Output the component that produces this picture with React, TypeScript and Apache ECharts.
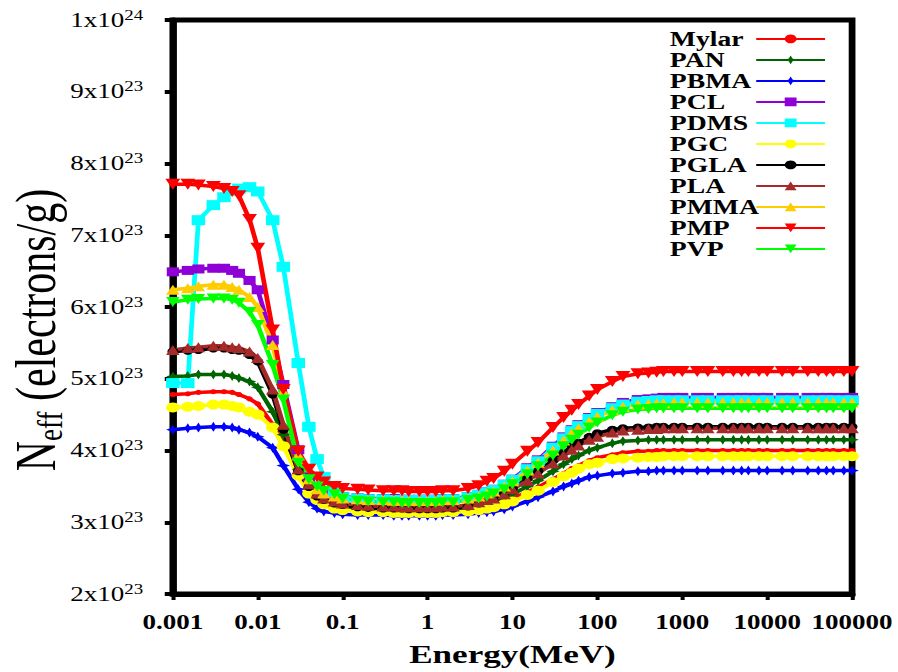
import { useEffect, useRef } from "react";
import * as echarts from "echarts";

// Photon energies (MeV) at which N_eff was evaluated
const energies = [
  0.001, 0.0015, 0.002, 0.003, 0.004, 0.005, 0.006, 0.008,
  0.01, 0.015, 0.02, 0.03, 0.04, 0.05, 0.06, 0.08,
  0.1, 0.15, 0.2, 0.3, 0.4, 0.5, 0.6, 0.8,
  1, 1.25, 1.5, 2, 3, 4, 5, 6, 8,
  10, 15, 20, 30, 40, 50, 60, 80,
  100, 150, 200, 300, 400, 500, 600, 800,
  1000, 1500, 2000, 3000, 4000, 5000, 6000, 8000,
  10000, 15000, 20000, 30000, 40000, 50000, 60000, 80000,
  100000,
];

// Effective electron density, in units of 10^23 electrons/g
const mylar = [
  4.78, 4.79, 4.81, 4.82, 4.82, 4.81, 4.78, 4.72,
  4.65, 4.36, 4.08, 3.67, 3.46, 3.35, 3.29, 3.25,
  3.22, 3.2, 3.19, 3.18, 3.18, 3.17, 3.17, 3.17,
  3.17, 3.17, 3.18, 3.18, 3.19, 3.21, 3.24, 3.25, 3.29,
  3.33, 3.42, 3.49, 3.6, 3.68, 3.75, 3.79, 3.86,
  3.9, 3.94, 3.97, 3.99, 3.99, 4.0, 4.0, 4.0,
  4.0, 4.0, 4.0, 4.0, 4.0, 4.0, 4.0, 4.0,
  4.0, 4.0, 4.0, 4.0, 4.0, 4.0, 4.0, 4.0,
  4.0,
];
const pan = [
  5.03, 5.04, 5.06, 5.06, 5.06, 5.04, 5.01, 4.96,
  4.88, 4.54, 4.22, 3.74, 3.47, 3.35, 3.29, 3.25,
  3.22, 3.2, 3.19, 3.19, 3.18, 3.18, 3.18, 3.18,
  3.18, 3.18, 3.19, 3.19, 3.21, 3.24, 3.26, 3.29, 3.33,
  3.39, 3.5, 3.58, 3.71, 3.81, 3.88, 3.93, 4.0,
  4.04, 4.1, 4.13, 4.14, 4.15, 4.15, 4.15, 4.15,
  4.15, 4.15, 4.15, 4.15, 4.15, 4.15, 4.15, 4.15,
  4.15, 4.15, 4.15, 4.15, 4.15, 4.15, 4.15, 4.15,
  4.15,
];
const pbma = [
  4.29, 4.31, 4.32, 4.33, 4.33, 4.32, 4.29, 4.25,
  4.19, 4.04, 3.79, 3.46, 3.28, 3.19, 3.15, 3.13,
  3.11, 3.1, 3.1, 3.1, 3.09, 3.09, 3.09, 3.09,
  3.09, 3.09, 3.1, 3.1, 3.11, 3.13, 3.14, 3.15, 3.18,
  3.22, 3.29, 3.35, 3.43, 3.5, 3.54, 3.58, 3.63,
  3.65, 3.68, 3.69, 3.71, 3.71, 3.72, 3.72, 3.72,
  3.72, 3.72, 3.72, 3.72, 3.72, 3.72, 3.72, 3.72,
  3.72, 3.72, 3.72, 3.72, 3.72, 3.72, 3.72, 3.72,
  3.72,
];
const pcl = [
  6.49, 6.51, 6.53, 6.54, 6.54, 6.51, 6.47, 6.37,
  6.24, 5.54, 4.92, 4.01, 3.63, 3.49, 3.43, 3.39,
  3.36, 3.34, 3.33, 3.33, 3.33, 3.32, 3.32, 3.32,
  3.32, 3.32, 3.33, 3.33, 3.36, 3.39, 3.43, 3.46, 3.53,
  3.6, 3.76, 3.87, 4.06, 4.19, 4.29, 4.36, 4.46,
  4.53, 4.61, 4.67, 4.71, 4.72, 4.73, 4.74, 4.74,
  4.74, 4.74, 4.74, 4.74, 4.74, 4.74, 4.74, 4.74,
  4.74, 4.74, 4.74, 4.74, 4.74, 4.74, 4.74, 4.74,
  4.74,
];
const pdms = [
  4.94, 4.94, 7.21, 7.42, 7.53, 7.62, 7.65, 7.67,
  7.61, 7.21, 6.56, 5.22, 4.33, 3.88, 3.63, 3.42,
  3.35, 3.33, 3.32, 3.32, 3.31, 3.31, 3.31, 3.31,
  3.31, 3.31, 3.32, 3.32, 3.35, 3.38, 3.42, 3.45, 3.52,
  3.59, 3.74, 3.85, 4.04, 4.17, 4.27, 4.34, 4.44,
  4.51, 4.59, 4.64, 4.68, 4.69, 4.7, 4.7, 4.7,
  4.7, 4.7, 4.7, 4.7, 4.7, 4.7, 4.7, 4.7,
  4.7, 4.7, 4.7, 4.7, 4.7, 4.7, 4.7, 4.7,
  4.7,
];
const pgc = [
  4.6, 4.61, 4.62, 4.64, 4.64, 4.62, 4.6, 4.54,
  4.5, 4.32, 4.06, 3.65, 3.4, 3.31, 3.25, 3.19,
  3.17, 3.15, 3.14, 3.14, 3.13, 3.13, 3.13, 3.13,
  3.13, 3.13, 3.14, 3.14, 3.15, 3.17, 3.19, 3.21, 3.25,
  3.29, 3.38, 3.44, 3.56, 3.64, 3.69, 3.75, 3.81,
  3.83, 3.88, 3.89, 3.9, 3.91, 3.91, 3.92, 3.92,
  3.92, 3.92, 3.92, 3.92, 3.92, 3.92, 3.92, 3.92,
  3.92, 3.92, 3.92, 3.92, 3.92, 3.92, 3.92, 3.92,
  3.92,
];
const pgla = [
  5.38, 5.39, 5.4, 5.42, 5.42, 5.4, 5.39, 5.33,
  5.24, 4.78, 4.29, 3.71, 3.49, 3.36, 3.31, 3.26,
  3.24, 3.21, 3.2, 3.19, 3.19, 3.19, 3.18, 3.18,
  3.18, 3.18, 3.19, 3.19, 3.22, 3.26, 3.31, 3.33, 3.4,
  3.47, 3.61, 3.71, 3.86, 3.97, 4.06, 4.11, 4.19,
  4.24, 4.29, 4.31, 4.32, 4.32, 4.33, 4.33, 4.33,
  4.33, 4.33, 4.33, 4.33, 4.33, 4.33, 4.33, 4.33,
  4.33, 4.33, 4.33, 4.33, 4.33, 4.33, 4.33, 4.33,
  4.33,
];
const pla = [
  5.4, 5.43, 5.44, 5.46, 5.46, 5.44, 5.43, 5.38,
  5.29, 4.85, 4.36, 3.74, 3.53, 3.4, 3.33, 3.29,
  3.26, 3.24, 3.23, 3.22, 3.22, 3.21, 3.21, 3.21,
  3.21, 3.21, 3.22, 3.22, 3.24, 3.28, 3.31, 3.33, 3.39,
  3.46, 3.58, 3.68, 3.82, 3.93, 4.01, 4.07, 4.15,
  4.19, 4.25, 4.28, 4.29, 4.3, 4.3, 4.31, 4.31,
  4.31, 4.31, 4.31, 4.31, 4.31, 4.31, 4.31, 4.31,
  4.31, 4.31, 4.31, 4.31, 4.31, 4.31, 4.31, 4.31,
  4.31,
];
const pmma = [
  6.24, 6.26, 6.29, 6.31, 6.31, 6.28, 6.24, 6.14,
  6.0, 5.47, 4.82, 3.93, 3.6, 3.46, 3.4, 3.36,
  3.33, 3.32, 3.31, 3.31, 3.3, 3.3, 3.3, 3.3,
  3.3, 3.3, 3.31, 3.31, 3.33, 3.36, 3.4, 3.43, 3.5,
  3.57, 3.72, 3.83, 4.0, 4.14, 4.24, 4.31, 4.4,
  4.47, 4.56, 4.61, 4.64, 4.65, 4.66, 4.66, 4.67,
  4.67, 4.67, 4.67, 4.67, 4.67, 4.67, 4.67, 4.67,
  4.67, 4.67, 4.67, 4.67, 4.67, 4.67, 4.67, 4.67,
  4.67,
];
const pmp = [
  7.71, 7.71, 7.7, 7.68, 7.65, 7.61, 7.55, 7.22,
  6.82, 5.68, 4.85, 3.99, 3.74, 3.63, 3.56, 3.5,
  3.47, 3.46, 3.45, 3.44, 3.44, 3.44, 3.43, 3.43,
  3.43, 3.43, 3.44, 3.44, 3.47, 3.51, 3.57, 3.61, 3.71,
  3.81, 3.99, 4.11, 4.32, 4.46, 4.56, 4.64, 4.76,
  4.85, 4.96, 5.03, 5.07, 5.08, 5.09, 5.1, 5.1,
  5.1, 5.1, 5.1, 5.1, 5.1, 5.1, 5.1, 5.1,
  5.1, 5.1, 5.1, 5.1, 5.1, 5.1, 5.1, 5.1,
  5.1,
];
const pvp = [
  6.07, 6.1, 6.11, 6.12, 6.12, 6.1, 6.06, 5.93,
  5.75, 5.19, 4.71, 3.83, 3.6, 3.5, 3.44, 3.39,
  3.33, 3.3, 3.29, 3.28, 3.28, 3.27, 3.27, 3.27,
  3.27, 3.27, 3.28, 3.28, 3.31, 3.33, 3.36, 3.4, 3.46,
  3.53, 3.67, 3.78, 3.93, 4.06, 4.15, 4.22, 4.32,
  4.39, 4.49, 4.54, 4.57, 4.58, 4.59, 4.59, 4.59,
  4.59, 4.59, 4.59, 4.59, 4.59, 4.59, 4.59, 4.59,
  4.59, 4.59, 4.59, 4.59, 4.59, 4.59, 4.59, 4.59,
  4.59,
];

const seriesNames = ["Mylar", "PAN", "PBMA", "PCL", "PDMS", "PGC", "PGLA", "PLA", "PMMA", "PMP", "PVP"];
const seriesValues = [mylar, pan, pbma, pcl, pdms, pgc, pgla, pla, pmma, pmp, pvp];

// Axis tick text
const xTickLabels = ["0.001", "0.01", "0.1", "1", "10", "100", "1000", "10000", "100000"];
const xMinorTicks = [
  0.002, 0.005, 0.02, 0.05, 0.2, 0.5, 2, 5, 20, 50, 200, 500, 2000, 5000, 20000, 50000,
];
const yTickBases = ["2x10", "3x10", "4x10", "5x10", "6x10", "7x10", "8x10", "9x10", "1x10"];
const yTickExps = ["23", "23", "23", "23", "23", "23", "23", "23", "24"];

const SERIF = '"Liberation Serif", "Times New Roman", Times, serif';

// The figure is laid out on a narrower canvas and widened horizontally
const PAGE_W = 898;
const PAGE_H = 672;
const CHART_W = 665;
const STRETCH = PAGE_W / CHART_W;

const STAR = "path://M5,0 L6.6,3.4 L10,5 L6.6,6.6 L5,10 L3.4,6.6 L0,5 L3.4,3.4 Z";
const DOWN_TRIANGLE = "path://M0,0 L10,0 L5,9 Z";

const styles: Record<string, { color: string; symbol: string; size: number }> = {
  Mylar: { color: "#ff0000", symbol: "circle", size: 5 },
  PAN: { color: "#006400", symbol: STAR, size: 10 },
  PBMA: { color: "#0000ff", symbol: STAR, size: 10 },
  PCL: { color: "#8e00d6", symbol: "rect", size: 9 },
  PDMS: { color: "#00ffff", symbol: "rect", size: 10 },
  PGC: { color: "#ffff00", symbol: "circle", size: 10 },
  PGLA: { color: "#000000", symbol: "circle", size: 8 },
  PLA: { color: "#a52a2a", symbol: "triangle", size: 10 },
  PMMA: { color: "#ffcc00", symbol: "triangle", size: 10 },
  PMP: { color: "#ff0000", symbol: DOWN_TRIANGLE, size: 11 },
  PVP: { color: "#00ff00", symbol: DOWN_TRIANGLE, size: 10 },
};

export default function App() {
  const ref = useRef<HTMLDivElement>(null);

  useEffect(() => {
    if (!ref.current) return;
    const chart = echarts.init(ref.current, undefined, { renderer: "svg" });

    const series = seriesNames.map((name, k) => {
      const st = styles[name];
      return {
        name,
        type: "line",
        xAxisIndex: 0,
        data: energies.map((e, i) => [e, seriesValues[k][i]]),
        symbol: st.symbol,
        symbolSize: st.size,
        showSymbol: true,
        lineStyle: { color: st.color, width: 3.5 },
        itemStyle: { color: st.color },
        emphasis: { disabled: true },
      };
    });

    chart.setOption({
      animation: false,
      backgroundColor: "#ffffff",
      grid: {
        left: 128,
        right: 34,
        top: 20,
        bottom: 77,
        show: true,
        borderColor: "#000",
        borderWidth: 5,
        backgroundColor: "transparent",
      },
      legend: {
        orient: "vertical",
        left: 496,
        top: 28.4,
        padding: 0,
        itemGap: 0,
        align: "right",
        itemWidth: 51,
        itemHeight: 11,
        selectedMode: false,
        data: seriesNames,
        formatter: (n: string) => `{n|${n}}`,
        textStyle: {
          rich: {
            n: {
              width: 59,
              align: "left",
              fontSize: 20.5,
              fontWeight: "bold",
              fontFamily: SERIF,
              lineHeight: 22.2,
              color: "#000",
            },
          },
        },
      },
      xAxis: [
        {
          type: "log",
          logBase: 10,
          min: 0.001,
          max: 100000,
          position: "bottom",
          axisLine: { show: true, lineStyle: { color: "#000", width: 5 } },
          axisTick: { show: true, length: 6, lineStyle: { color: "#000", width: 3 } },
          axisLabel: {
            margin: 18,
            color: "#000",
            fontFamily: SERIF,
            fontSize: 20,
            fontWeight: "bold",
            formatter: (v: number) => xTickLabels[Math.round(Math.log10(v)) + 3] ?? "",
          },
          splitLine: { show: false },
          name: "Energy(MeV)",
          nameLocation: "middle",
          nameGap: 47,
          nameTextStyle: { color: "#000", fontFamily: SERIF, fontSize: 26, fontWeight: "bold" },
        },
        {
          type: "log",
          logBase: 10,
          min: 0.001,
          max: 100000,
          position: "bottom",
          axisLine: { show: false },
          axisLabel: { show: false },
          splitLine: { show: false },
          axisTick: {
            show: true,
            customValues: xMinorTicks,
            length: 3,
            lineStyle: { color: "#000", width: 3 },
          },
        },
      ],
      yAxis: {
        type: "value",
        min: 2,
        max: 10,
        interval: 1,
        axisLine: { show: true, lineStyle: { color: "#000", width: 5 } },
        axisTick: { show: true, length: 6, lineStyle: { color: "#000", width: 4 } },
        splitLine: { show: false },
        axisLabel: {
          margin: 22,
          formatter: (v: number) => {
            const i = Math.round(v) - 2;
            return `{b|${yTickBases[i]}}{s|${yTickExps[i]}}`;
          },
          rich: {
            b: { fontSize: 20, fontFamily: SERIF, color: "#000", lineHeight: 24 },
            s: { fontSize: 14, fontFamily: SERIF, color: "#000", lineHeight: 14, verticalAlign: "top" },
          },
        },
      },
      graphic: [
        {
          type: "text",
          x: 27,
          y: 330,
          rotation: Math.PI / 2,
          style: {
            text: "{a|N}{b|eff}{a| (electrons/g)}",
            align: "center",
            verticalAlign: "middle",
            rich: {
              a: { fontSize: 42, fontFamily: SERIF, color: "#000", lineHeight: 46 },
              b: { fontSize: 27, fontFamily: SERIF, color: "#000", lineHeight: 26, verticalAlign: "bottom" },
            },
          },
        },
      ],
      series,
    });

    return () => chart.dispose();
  }, []);

  return (
    <div
      style={{
        position: "fixed",
        left: 0,
        top: 0,
        width: PAGE_W,
        height: PAGE_H,
        overflow: "hidden",
        background: "#ffffff",
      }}
    >
      <div
        ref={ref}
        style={{
          width: CHART_W,
          height: PAGE_H,
          transform: `scaleX(${STRETCH})`,
          transformOrigin: "0 0",
        }}
      />
    </div>
  );
}
